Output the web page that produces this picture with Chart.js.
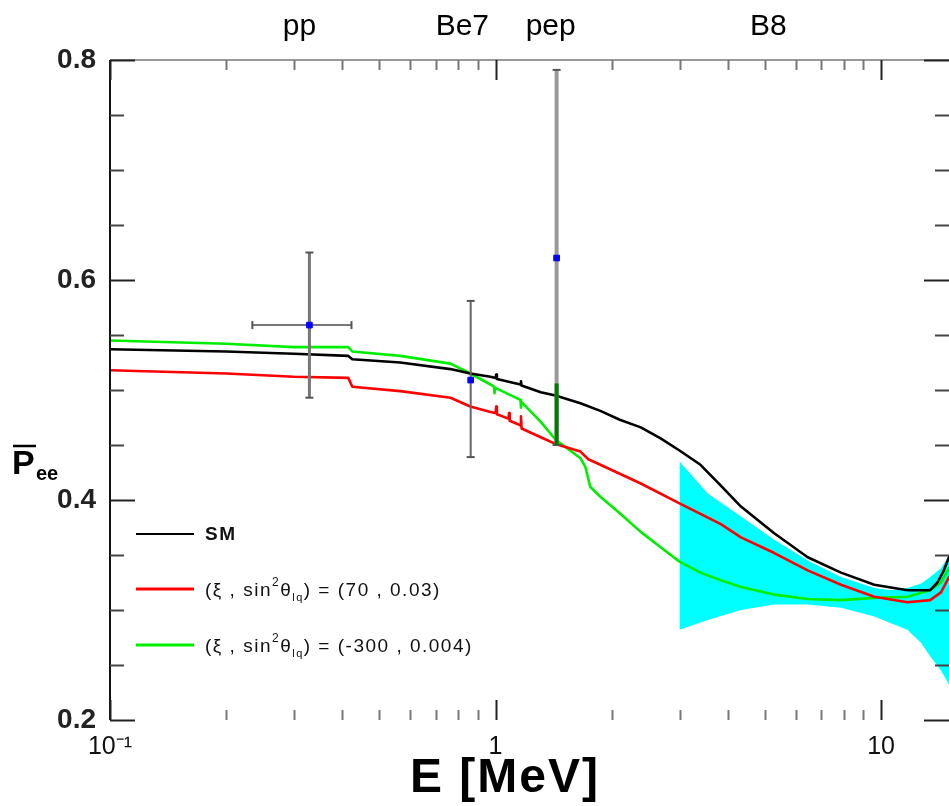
<!DOCTYPE html>
<html>
<head>
<meta charset="utf-8">
<script src="https://cdn.jsdelivr.net/npm/chart.js@4.4.1/dist/chart.umd.min.js"></script>
<style>
  html, body { margin: 0; padding: 0; background: #fff; }
  canvas { display: block; }
</style>
</head>
<body>
<canvas id="pee" width="949" height="806"></canvas>
<script>
// --- data ---
const smE   = [0.1, 0.2, 0.3, 0.415, 0.425, 0.566, 0.764, 0.86, 0.97, 1.0, 1.004, 1.008, 1.16, 1.164, 1.168, 1.31, 1.43, 1.66, 1.87, 2.1, 2.38, 2.68, 3.0, 3.4, 3.84, 4.33, 5.27, 6.45, 7.87, 9.6, 11.7, 13.4, 14.0, 14.5, 15];
const smP   = [0.537, 0.535, 0.533, 0.531, 0.528, 0.525, 0.519, 0.515, 0.512, 0.511, 0.514, 0.510, 0.505, 0.508, 0.504, 0.498, 0.495, 0.488, 0.481, 0.473, 0.466, 0.456, 0.445, 0.432, 0.413, 0.394, 0.370, 0.348, 0.334, 0.323, 0.318, 0.318, 0.325, 0.335, 0.348];

const redE  = [0.1, 0.2, 0.3, 0.415, 0.425, 0.566, 0.764, 0.86, 0.97, 1.0, 1.004, 1.008, 1.08, 1.084, 1.088, 1.16, 1.164, 1.168, 1.31, 1.43, 1.66, 1.74, 1.87, 2.38, 3.0, 3.84, 4.33, 5.27, 6.45, 7.87, 9.6, 11.7, 13.4, 14.3, 15];
const redP  = [0.518, 0.515, 0.512, 0.511, 0.503, 0.499, 0.493, 0.485, 0.480, 0.479, 0.485, 0.478, 0.474, 0.479, 0.472, 0.468, 0.476, 0.465, 0.457, 0.451, 0.444, 0.437, 0.432, 0.415, 0.397, 0.378, 0.366, 0.352, 0.336, 0.323, 0.312, 0.307, 0.309, 0.316, 0.330];

const greenE = [0.1, 0.2, 0.3, 0.415, 0.425, 0.566, 0.764, 0.86, 0.97, 0.99, 0.994, 0.998, 1.16, 1.164, 1.168, 1.31, 1.43, 1.66, 1.71, 1.76, 1.87, 2.1, 2.38, 2.68, 3.0, 3.4, 3.84, 4.33, 5.27, 6.45, 7.87, 9.6, 11.7, 13.4, 14.3, 15];
const greenP = [0.545, 0.542, 0.539, 0.539, 0.535, 0.531, 0.524, 0.515, 0.505, 0.503, 0.497, 0.502, 0.491, 0.484, 0.489, 0.471, 0.455, 0.438, 0.430, 0.412, 0.403, 0.388, 0.371, 0.357, 0.344, 0.334, 0.327, 0.321, 0.314, 0.310, 0.309, 0.311, 0.312, 0.318, 0.325, 0.338];

const bandE    = [3.0, 3.55, 4.33, 5.27, 6.45, 7.87, 9.6, 10.6, 11.7, 12.7, 13.4, 14.3, 15];
const bandHigh = [0.435, 0.406, 0.385, 0.364, 0.345, 0.330, 0.320, 0.318, 0.320, 0.324, 0.330, 0.338, 0.350];
const bandLow  = [0.282, 0.291, 0.300, 0.305, 0.305, 0.302, 0.294, 0.288, 0.282, 0.270, 0.258, 0.245, 0.232];

// measured points: pp, Be7, pep
const pointE   = [0.329, 0.862, 1.44];
const pointP   = [0.559, 0.509, 0.620];
const errLow   = [0.493, 0.439, 0.450];
const errHigh  = [0.625, 0.581, 0.791];
const ppErrE   = [0.234, 0.423];
const pepGreen = [0.450, 0.506];

const sourceNames = ['pp', 'Be7', 'pep', 'B8'];
const sourceE     = [0.31, 0.82, 1.39, 5.1];

const yTicks = [0.2, 0.4, 0.6, 0.8];
const xTicks = [0.1, 1, 10];
const xTickLabels = ['10\u207B\u00B9', '1', '10'];

const legendLabels = ['SM', ['70', '0.03'], ['-300', '0.004']];

const pts = (xs, ys) => xs.map((x, i) => ({ x: x, y: ys[i] }));

const errColors = ['#777', '#666', '#999'];
const errWidths = [3, 2, 4];
const errSets = pointE.map((e, i) => ({
  data: [{ x: e, y: errLow[i] }, { x: e, y: errHigh[i] }],
  borderColor: errColors[i], borderWidth: errWidths[i],
  pointStyle: 'line', pointRadius: 4, pointBorderWidth: 2, pointBorderColor: '#555',
  showLine: true, order: 2
}));

const curve = (xs, ys, color) => ({
  data: pts(xs, ys), borderColor: color, borderWidth: 2.6, pointRadius: 0, showLine: true,
  borderJoinStyle: 'round', borderCapStyle: 'round'
});

const datasets = [
  { data: pts(pointE, pointP), pointStyle: 'rect', pointRadius: 4,
    backgroundColor: '#0000ff', borderColor: '#0000ff', showLine: false, order: 0 },
  { data: [{ x: pointE[2], y: pepGreen[0] }, { x: pointE[2], y: pepGreen[1] }],
    borderColor: '#007a00', borderWidth: 4, pointRadius: 0, showLine: true, order: 1 },
  { data: pts(ppErrE, [pointP[0], pointP[0]]), borderColor: '#777', borderWidth: 2,
    pointStyle: 'line', rotation: 90, pointRadius: 4, pointBorderWidth: 2, pointBorderColor: '#555',
    showLine: true, order: 2 },
  ...errSets,
  Object.assign(curve(smE, smP, '#000'), { order: 3 }),
  Object.assign(curve(redE, redP, '#ff0000'), { order: 4 }),
  Object.assign(curve(greenE, greenP, '#00ee00'), { order: 5 }),
  { data: pts(bandE, bandHigh), borderWidth: 0, pointRadius: 0, showLine: true,
    backgroundColor: '#00ffff', fill: '+1', order: 6 },
  { data: pts(bandE, bandLow), borderWidth: 0, pointRadius: 0, showLine: true, fill: false, order: 7 }
];

const FONT = '"Liberation Sans", Arial, Helvetica, sans-serif';

// frame, inward ticks, titles, source labels and legend
const decor = {
  id: 'decor',
  afterDraw(chart) {
    const ctx = chart.ctx;
    const a = chart.chartArea;
    const xs = chart.scales.x, ys = chart.scales.y;
    ctx.save();
    ctx.lineCap = 'butt';

    // axis lines
    ctx.strokeStyle = '#111'; ctx.lineWidth = 2;
    ctx.beginPath(); ctx.moveTo(a.left, a.top); ctx.lineTo(a.left, a.bottom); ctx.stroke();
    ctx.strokeStyle = '#999';
    ctx.beginPath(); ctx.moveTo(a.left, a.top); ctx.lineTo(a.right, a.top); ctx.stroke();

    // y ticks (left and right, pointing in)
    for (let k = 0; k <= 12; k++) {
      const v = 0.2 + k * 0.05;
      const py = Math.round(ys.getPixelForValue(v)) + 0.5;
      const major = k % 4 === 0;
      const len = major ? 25 : 14;
      ctx.strokeStyle = major ? '#222' : '#444';
      ctx.lineWidth = 2;
      ctx.beginPath(); ctx.moveTo(a.left, py); ctx.lineTo(a.left + len, py); ctx.stroke();
      ctx.beginPath(); ctx.moveTo(a.right, py); ctx.lineTo(a.right - len, py); ctx.stroke();
    }

    // x ticks (bottom and top, pointing in)
    for (let d = 0.1; d < 20; d *= 10) {
      for (let m = 1; m <= 9; m++) {
        const v = d * m;
        if (v < xs.min || v > xs.max) continue;
        const px = Math.round(xs.getPixelForValue(v)) + 0.5;
        const major = m === 1;
        const len = major ? 20 : 10;
        ctx.strokeStyle = major ? '#222' : '#777';
        ctx.lineWidth = 2;
        ctx.beginPath(); ctx.moveTo(px, a.bottom); ctx.lineTo(px, a.bottom - len); ctx.stroke();
        ctx.beginPath(); ctx.moveTo(px, a.top); ctx.lineTo(px, a.top + len); ctx.stroke();
      }
    }

    // source names above the frame
    ctx.fillStyle = '#000';
    ctx.font = '30px ' + FONT;
    ctx.textAlign = 'center'; ctx.textBaseline = 'middle';
    sourceNames.forEach((n, i) => ctx.fillText(n, xs.getPixelForValue(sourceE[i]), 27));

    // x title
    ctx.font = 'bold 48px ' + FONT;
    ctx.letterSpacing = '2px';
    ctx.fillText('E [MeV]', 505, 779);
    ctx.letterSpacing = '0px';

    // y title: P with bar, subscript ee
    ctx.textAlign = 'left';
    ctx.font = 'bold 34px ' + FONT;
    ctx.fillText('P', 12, 465);
    ctx.lineWidth = 2.5; ctx.strokeStyle = '#000';
    ctx.beginPath(); ctx.moveTo(13, 446); ctx.lineTo(36, 446); ctx.stroke();
    ctx.font = 'bold 20px ' + FONT;
    ctx.fillText('ee', 36, 474);

    // legend inside the plot
    const rows = [
      { color: '#000', w: 2, y: a.top + 474 },
      { color: '#ff0000', w: 3, y: a.top + 529 },
      { color: '#00ee00', w: 3, y: a.top + 585 }
    ];
    ctx.letterSpacing = '1.5px';
    rows.forEach((r, i) => {
      ctx.strokeStyle = r.color; ctx.lineWidth = r.w;
      ctx.beginPath(); ctx.moveTo(a.left + 26, r.y); ctx.lineTo(a.left + 84, r.y); ctx.stroke();
      let x = a.left + 95;
      ctx.fillStyle = '#111';
      if (i === 0) {
        ctx.font = 'bold 19px ' + FONT;
        ctx.fillText(legendLabels[0], x, r.y + 1);
        return;
      }
      const put = (t, f, dy) => { ctx.font = f; ctx.fillText(t, x, r.y + dy); x += ctx.measureText(t).width; };
      put('(\u03BE , sin', '19px ' + FONT, 2);
      put('2', '12px ' + FONT, -6);
      put('\u03B8', '19px ' + FONT, 2);
      put('lq', '11px ' + FONT, 9);
      put(') = (' + legendLabels[i][0] + ' , ' + legendLabels[i][1] + ')', '19px ' + FONT, 2);
    });
    ctx.letterSpacing = '0px';
    ctx.restore();
  }
};

new Chart(document.getElementById('pee'), {
  type: 'scatter',
  data: { datasets: datasets },
  options: {
    responsive: false,
    animation: false,
    devicePixelRatio: 1,
    layout: { autoPadding: false, padding: { top: 60, right: 0, left: 0, bottom: 0 } },
    plugins: { legend: { display: false }, tooltip: { enabled: false } },
    elements: { line: { tension: 0 } },
    scales: {
      x: {
        type: 'logarithmic', min: 0.1, max: 15,
        border: { display: false },
        grid: { display: false, drawTicks: false },
        afterBuildTicks: s => { s.ticks = xTicks.map(v => ({ value: v })); },
        afterFit: s => { s.height = 86; s.paddingLeft = 0; s.paddingRight = 0; },
        ticks: {
          autoSkip: false, maxRotation: 0, padding: 12, color: '#111',
          font: { family: FONT, size: 25 },
          callback: (v, i) => xTickLabels[i]
        }
      },
      y: {
        min: 0.2, max: 0.8,
        border: { display: false },
        grid: { display: false, drawTicks: false },
        afterBuildTicks: s => { s.ticks = yTicks.map(v => ({ value: v })); },
        afterFit: s => { s.width = 110; },
        ticks: {
          padding: 14, color: '#222',
          font: { family: FONT, size: 28, weight: 'bold' },
          callback: v => v.toFixed(1)
        }
      }
    }
  },
  plugins: [decor]
});
</script>
</body>
</html>
